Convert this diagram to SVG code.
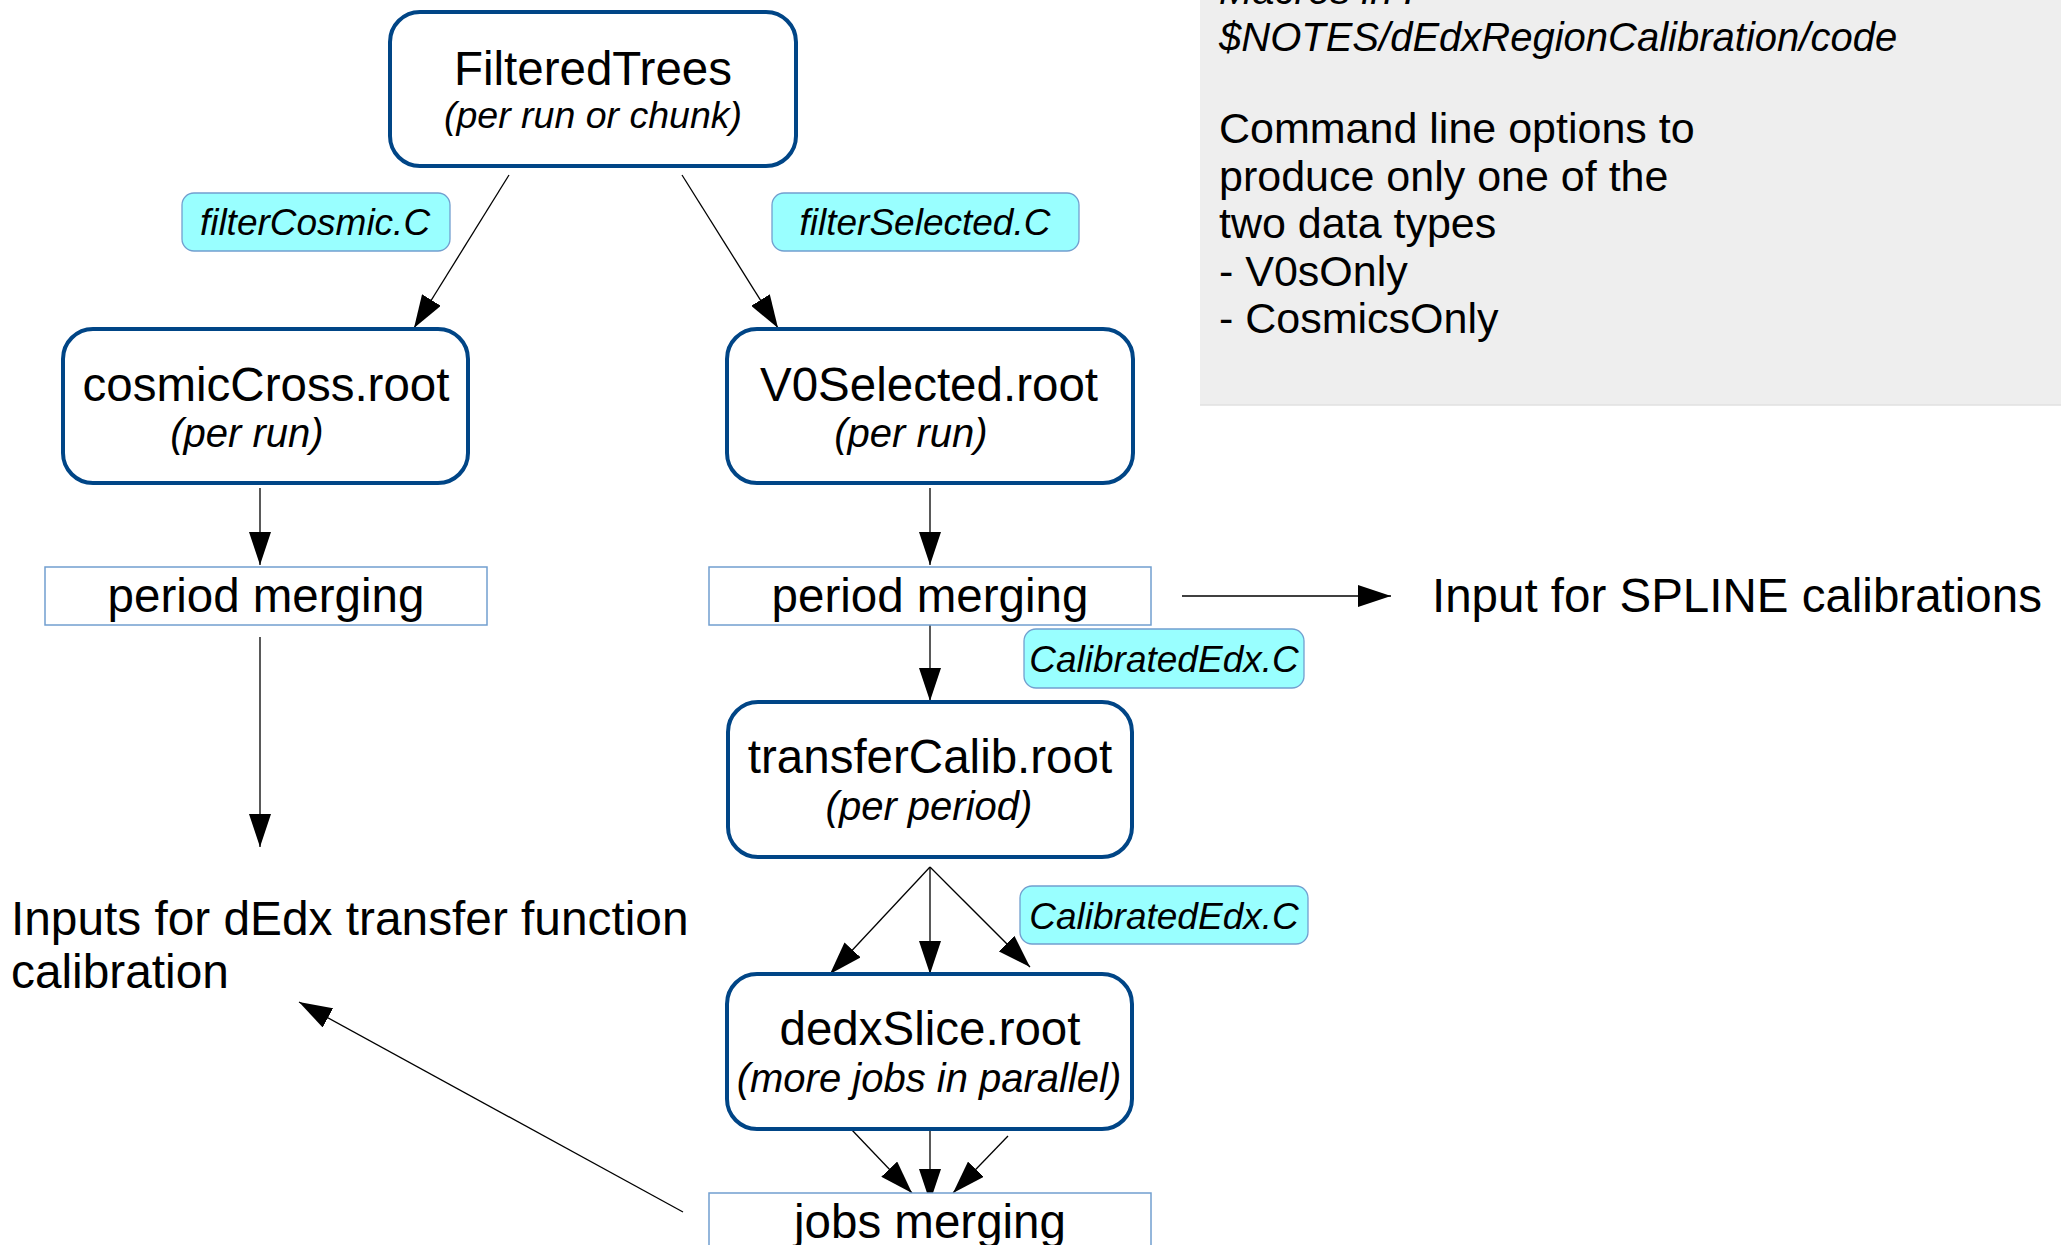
<svg xmlns="http://www.w3.org/2000/svg" width="2061" height="1245" viewBox="0 0 2061 1245">
<defs>
<style>
text{font-family:"Liberation Sans",Arial,sans-serif;fill:#000}
.main{font-size:47.5px;text-anchor:middle}
.sub{font-size:40px;font-style:italic;text-anchor:middle}
.macro{font-size:37px;font-style:italic;text-anchor:middle}
.node{fill:#fff;stroke:#004586;stroke-width:4}
.lab{fill:#99ffff;stroke:#729fcf;stroke-width:1.3}
.merge{fill:#fff;stroke:#729fcf;stroke-width:1.5}
.note{font-size:43px}
.noteit{font-size:40px;font-style:italic}
.free{font-size:47.8px}
.conn line{stroke:#000;stroke-width:1.3;marker-end:url(#ah)}
</style>
<marker id="ah" markerUnits="userSpaceOnUse" markerWidth="33" markerHeight="22" refX="33" refY="11" orient="auto" viewBox="0 0 33 22">
<path d="M0,0 L33,11 L0,22 z" fill="#000"/>
</marker>
</defs>
<rect width="2061" height="1245" fill="#fff"/>

<g id="notes">
<rect x="1200" y="-10" width="870" height="415" fill="#eeeeee"/>
<line x1="1200" y1="405" x2="2061" y2="405" stroke="#e0e0e0" stroke-width="1.5"/>
<text class="noteit" x="1219" y="4">Macros in :</text>
<text class="noteit" x="1219" y="51">$NOTES/dEdxRegionCalibration/code</text>
<text class="note" x="1219" y="143">Command line options to</text>
<text class="note" x="1219" y="190.5">produce only one of the</text>
<text class="note" x="1219" y="238">two data types</text>
<text class="note" x="1219" y="285.5">- V0sOnly</text>
<text class="note" x="1219" y="333">- CosmicsOnly</text>
</g>

<g class="conn" id="connectors">
<line x1="509" y1="175" x2="414" y2="328"/>
<line x1="682" y1="175" x2="778" y2="328"/>
<line x1="260" y1="488" x2="260" y2="565"/>
<line x1="930" y1="488" x2="930" y2="565"/>
<line x1="260" y1="637" x2="260" y2="847"/>
<line x1="930" y1="625" x2="930" y2="701"/>
<line x1="1182" y1="596" x2="1391" y2="596"/>
<line x1="930" y1="867" x2="830" y2="974"/>
<line x1="930" y1="867" x2="930" y2="974"/>
<line x1="930" y1="867" x2="1030" y2="967"/>
<line x1="851" y1="1129" x2="912" y2="1193"/>
<line x1="930" y1="1126" x2="930" y2="1202"/>
<line x1="1008" y1="1136" x2="953" y2="1193"/>
<line x1="683" y1="1212" x2="299" y2="1002"/>
</g>

<g id="filteredTrees">
<rect class="node" x="390" y="12" width="406" height="154" rx="30"/>
<text class="main" x="593" y="85">FilteredTrees</text>
<text class="sub" x="593" y="128" style="font-size:37.5px">(per run or chunk)</text>
</g>

<g id="filterCosmic">
<rect class="lab" x="182" y="193" width="268" height="58" rx="12"/>
<text class="macro" x="315" y="235">filterCosmic.C</text>
</g>

<g id="filterSelected">
<rect class="lab" x="772" y="193" width="307" height="58" rx="12"/>
<text class="macro" x="925" y="235">filterSelected.C</text>
</g>

<g id="cosmicCross">
<rect class="node" x="63" y="329" width="405" height="154" rx="30"/>
<text class="main" x="266" y="401">cosmicCross.root</text>
<text class="sub" x="247" y="447">(per run)</text>
</g>

<g id="v0Selected">
<rect class="node" x="727" y="329" width="406" height="154" rx="30"/>
<text class="main" x="929" y="401">V0Selected.root</text>
<text class="sub" x="911" y="447">(per run)</text>
</g>

<g id="periodMergingLeft">
<rect class="merge" x="45" y="567" width="442" height="58"/>
<text class="main" x="266" y="612">period merging</text>
</g>

<g id="periodMergingRight">
<rect class="merge" x="709" y="567" width="442" height="58"/>
<text class="main" x="930" y="612">period merging</text>
</g>

<g id="splineInput">
<text class="free" x="1432" y="612" style="font-size:47.5px">Input for SPLINE calibrations</text>
</g>

<g id="calibratedEdx1">
<rect class="lab" x="1024" y="629" width="280" height="59" rx="12"/>
<text class="macro" x="1164" y="672">CalibratedEdx.C</text>
</g>

<g id="transferCalib">
<rect class="node" x="728" y="702" width="404" height="155" rx="30"/>
<text class="main" x="930" y="773">transferCalib.root</text>
<text class="sub" x="929" y="820">(per period)</text>
</g>

<g id="calibratedEdx2">
<rect class="lab" x="1020" y="886" width="288" height="58" rx="12"/>
<text class="macro" x="1164" y="929">CalibratedEdx.C</text>
</g>

<g id="dedxInputs">
<text class="free" x="11" y="935">Inputs for dEdx transfer function</text>
<text class="free" x="11" y="988">calibration</text>
</g>

<g id="dedxSlice">
<rect class="node" x="727" y="974" width="405" height="155" rx="30"/>
<text class="main" x="930" y="1045">dedxSlice.root</text>
<text class="sub" x="929" y="1092">(more jobs in parallel)</text>
</g>

<g id="jobsMerging">
<rect class="merge" x="709" y="1193" width="442" height="58"/>
<text class="main" x="930" y="1238">jobs merging</text>
</g>
</svg>
